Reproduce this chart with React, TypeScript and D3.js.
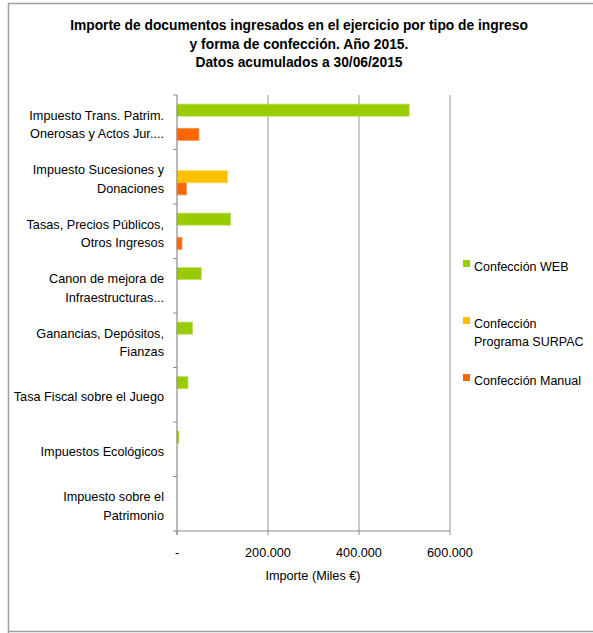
import React from "react";
import * as d3 from "d3";

const categories: string[][] = [
  ["Impuesto Trans. Patrim.", "Onerosas y Actos Jur...."],
  ["Impuesto Sucesiones y", "Donaciones"],
  ["Tasas, Precios Públicos,", "Otros Ingresos"],
  ["Canon de mejora de", "Infraestructuras..."],
  ["Ganancias, Depósitos,", "Fianzas"],
  ["Tasa Fiscal sobre el Juego"],
  ["Impuestos Ecológicos"],
  ["Impuesto sobre el", "Patrimonio"],
];

const seriesNames: string[][] = [
  ["Confección WEB"],
  ["Confección", "Programa SURPAC"],
  ["Confección Manual"],
];
const seriesColors = ["#99cc00", "#ffc000", "#ff6600"];
const seriesStroke = ["#c2e066", "#ffd966", "#ff9955"];

const webValues = [510500, 0, 118000, 53400, 34500, 24200, 4400, 0];
const surpacValues = [0, 111400, 0, 0, 0, 0, 0, 0];
const manualValues = [48300, 21300, 11000, 0, 0, 0, 0, 0];
const seriesValues = [webValues, surpacValues, manualValues];

const xTicks = [0, 200000, 400000, 600000];
const xTickLabels = ["-", "200.000", "400.000", "600.000"];

const titleLines = [
  "Importe de documentos ingresados en el ejercicio por tipo de ingreso",
  "y forma de confección. Año 2015.",
  "Datos acumulados a 30/06/2015",
];

const FONT = "'Liberation Sans', Arial, sans-serif";

export default function App() {
  const W = 593;
  const H = 633;
  const left = 177;
  const right = 450;
  const top = 95;
  const bottom = 531;

  const x = d3.scaleLinear().domain([0, 600000]).range([left, right]);
  const idx = categories.map((_, i) => i);
  const y = d3
    .scaleBand<number>()
    .domain(idx)
    .range([top, bottom])
    .paddingInner(1 / 3)
    .paddingOuter(1 / 6);
  const ys = d3
    .scaleBand<number>()
    .domain([0, 1, 2])
    .range([0, y.bandwidth()]);
  const step = (bottom - top) / categories.length;
  const boundaries = d3.range(categories.length + 1).map((i) => top + i * step);

  const legendY = [266, 323, 380];
  const fs = 12.7;

  return (
    <svg
      width={W}
      height={H}
      style={{ position: "absolute", left: 0, top: 0, background: "#fff" }}
      fontFamily={FONT}
    >
      <rect x={0} y={0} width={W} height={H} fill="#fff" />
      {/* outer border */}
      <path d={`M8.5,${H + 1} V3.5 H${W + 2}`} fill="none" stroke="#a0a0a0" strokeWidth={1.5} />
      <path d={`M8.5,631.5 H${W + 2}`} fill="none" stroke="#a0a0a0" strokeWidth={1.5} />

      {/* title */}
      {titleLines.map((t, i) => (
        <text
          key={i}
          x={299}
          y={30 + i * 18.5}
          textAnchor="middle"
          fontWeight="bold"
          fontSize={13.8}
          fill="#000"
        >
          {t}
        </text>
      ))}

      {/* gridlines */}
      {xTicks.slice(1).map((v) => (
        <line key={v} x1={x(v)} x2={x(v)} y1={top} y2={bottom} stroke="#a6a6a6" strokeWidth={1.2} />
      ))}

      {/* bars */}
      {seriesValues.map((vals, s) =>
        vals.map((v, i) =>
          v > 0 ? (
            <rect
              key={`${s}-${i}`}
              x={x(0)}
              y={(y(i) as number) + (ys(s) as number)}
              width={x(v) - x(0)}
              height={ys.bandwidth()}
              fill={seriesColors[s]}
              stroke={seriesStroke[s]}
              strokeWidth={0.8}
            />
          ) : null
        )
      )}

      {/* y axis */}
      <line x1={left} x2={left} y1={top} y2={bottom + 4} stroke="#8c8c8c" strokeWidth={1.2} />
      {boundaries.map((b, i) => (
        <line key={i} x1={left - 4} x2={left} y1={b} y2={b} stroke="#8c8c8c" strokeWidth={1} />
      ))}
      {/* x axis */}
      <line x1={left} x2={right} y1={bottom} y2={bottom} stroke="#8c8c8c" strokeWidth={1.2} />
      {xTicks.map((v) => (
        <line key={v} x1={x(v)} x2={x(v)} y1={bottom} y2={bottom + 4} stroke="#8c8c8c" strokeWidth={1} />
      ))}
      {xTicks.map((v, i) => (
        <text key={v} x={x(v)} y={556.5} textAnchor="middle" fontSize={fs} fill="#000">
          {xTickLabels[i]}
        </text>
      ))}
      <text x={313} y={579.5} textAnchor="middle" fontSize={fs} fill="#000">
        Importe (Miles €)
      </text>

      {/* category labels */}
      {categories.map((lines, i) => {
        const c = top + (i + 0.5) * step + 2;
        const lh = 18.5;
        const start = c - ((lines.length - 1) * lh) / 2;
        return lines.map((l, j) => (
          <text
            key={`${i}-${j}`}
            x={164}
            y={start + j * lh + 4.5}
            textAnchor="end"
            fontSize={fs}
            fill="#000"
          >
            {l}
          </text>
        ));
      })}

      {/* legend */}
      {seriesNames.map((lines, s) => (
        <g key={s}>
          <rect x={463} y={legendY[s] - 6} width={7} height={7} fill={seriesColors[s]} />
          {lines.map((l, j) => (
            <text key={j} x={474} y={legendY[s] + 4.5 + j * 18} fontSize={12.5} fill="#000">
              {l}
            </text>
          ))}
        </g>
      ))}
    </svg>
  );
}
